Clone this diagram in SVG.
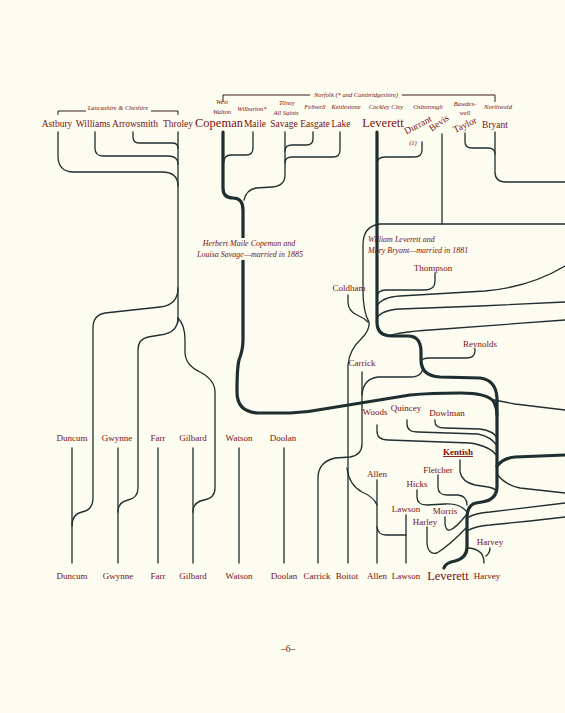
<svg xmlns="http://www.w3.org/2000/svg" width="565" height="713" viewBox="0 0 565 713">
<style>
.n{font-family:"Liberation Serif",serif;font-size:9.5px;fill:#7a1010;text-anchor:middle}
.s{font-size:9px}
.big{font-size:12.5px}
.it{font-family:"Liberation Serif",serif;font-style:italic;font-size:6.5px;fill:#7a1010;text-anchor:middle}
.ann{font-family:"Liberation Serif",serif;font-style:italic;font-size:8px;fill:#7a1010}
.l{fill:none;stroke:#1f2f2f;stroke-width:1.3;stroke-linecap:round;stroke-linejoin:round}
.t{stroke-width:3.2}
.br{fill:none;stroke:#3a1a1a;stroke-width:1}
</style>
<rect width="565" height="713" fill="#fcfcf0"/>
<g id="connectors">
<path class="l" d="M58,132 V156 Q58,172 74,172 H162 Q178,172 178,186"/>
<path class="l" d="M95,132 V148 Q95,156 103,156 H168 Q178,156 178,164"/>
<path class="l" d="M133,132 V137 Q133,143 139,143 H172 Q178,143 178,148"/>
<path class="l" d="M178,132 V322"/>
<path class="l" d="M178,288 Q178,305 160,307 L105,313 Q93,315 93,328 V498 Q93,510 82,512 Q72,514 72,526"/>
<path class="l" d="M178,318 Q178,333 160,335 L148,337 Q138,339 138,350 V488 Q138,498 128,500 Q118,502 118,512"/>
<path class="l" d="M178,318 Q185,325 185,340 V352 Q185,365 200,372 Q215,380 215,392 V488 Q215,498 204,500 Q193,502 193,512"/>
<path class="l" d="M72,448 V563 M118,448 V563 M158,448 V563 M193,448 V563 M239,448 V563 M284,448 V563"/>
<path class="l t" d="M223,132 V188 Q223,198 233,198 Q243,198 243,210 V340 Q243,350 239,360 Q237,368 237,392 Q237,412 258,413 L290,413 Q310,412 330,408 L410,395 Q430,393 460,393 Q488,393 494,402 Q497,408 497,415"/>
<path class="l" d="M253,132 V148 Q253,155 246,155 H231 Q224,155 224,162"/>
<path class="l" d="M313,132 V139 Q313,145 306,145 H292 Q285,145 285,151"/>
<path class="l" d="M340,132 V150 Q340,157 333,157 H292 Q285,157 285,163"/>
<path class="l" d="M285,132 V175 Q285,186 272,187 L256,188 Q246,190 244,200"/>
<path class="l t" d="M377,132 V322 Q377,336 392,336 H408 Q421,336 421,352 V360 Q421,376 440,377 L480,378 Q496,380 497,398 V486 Q497,500 482,502 L476,503 Q467,505 467,518 V547 Q467,558 455,561 Q445,563 444,568"/>
<path class="l" d="M422,142 V150 Q422,157 414,157 H385 Q377,157 377,164"/>
<path class="l" d="M465,133 V142 Q465,148 472,148 H488 Q495,148 495,154"/>
<path class="l" d="M495,132 V172 Q495,182 506,182 H565"/>
<path class="l" d="M442,134 V224"/>
<path class="l" d="M565,224 H380 Q363,226 363,245 V290 Q363,312 369,322 Q370,330 362,338 Q349,350 348,365 V563"/>
<path class="l" d="M348,295 V302 Q348,311 357,315 Q364,318 368,322"/>
<path class="l" d="M435,273 V281 Q435,290 425,290 H386 Q377,290 377,298"/>
<path class="l" d="M377,306 Q382,297 400,296 L485,291 Q530,287 565,266"/>
<path class="l" d="M377,318 Q382,310 400,309 L480,306 L565,302"/>
<path class="l" d="M388,336 Q400,332 430,330 L565,320"/>
<path class="l" d="M475,349 V351 Q475,358 466,358 H430 Q421,358 421,362"/>
<path class="l" d="M423,366 Q423,377 410,377 H378 Q363,379 362,395"/>
<path class="l" d="M362,372 V444 Q362,455 350,457 L335,458 Q318,462 318,478 V563"/>
<path class="l" d="M494,400 Q505,402 515,404 L565,410"/>
<path class="l" d="M377,425 V431 Q377,440 388,440 L470,443 Q490,446 497,456"/>
<path class="l" d="M407,420 V424 Q407,432 418,432 L478,434 Q492,437 497,446"/>
<path class="l" d="M435,420 V422 Q435,428 445,428 L480,429 Q494,431 497,438"/>
<path class="l" d="M460,460 V472 Q462,482 475,485 L488,487 Q495,488 497,492"/>
<path class="l t" d="M497,466 Q503,458 515,457 L565,455"/>
<path class="l" d="M497,474 Q505,485 520,488 L565,493"/>
<path class="l" d="M467,518 Q475,513 490,512 L565,503"/>
<path class="l" d="M467,531 Q475,526 490,525 L530,521 L565,517"/>
<path class="l" d="M438,475 V487 Q438,495 447,495 H458 Q467,496 467,505"/>
<path class="l" d="M417,490 V497 Q417,505 427,505 L445,504 Q460,503 467,512"/>
<path class="l" d="M445,517 V524 Q446,531 450,530 Q456,528 467,514"/>
<path class="l" d="M427,527 V543 Q428,555 437,553 Q450,545 467,527"/>
<path class="l" d="M467,548 Q476,548 481,553 Q484,557 484,563"/>
<path class="l" d="M490,548 Q490,553 486,556"/>
<path class="l" d="M377,480 V563 M406,515 V563"/>
<path class="l" d="M377,527 Q378,535 386,535 H406"/>
<path class="l" d="M347,468 Q349,485 362,492 Q374,497 377,505"/>
</g>
<g id="regions">
<path class="br" d="M58,115 V111 H86 M151,111 H178 V115"/>
<text class="it" x="118" y="110">Lancashire &amp; Cheshire</text>
<path class="br" d="M223,102 V95 H310 M402,95 H495 V102"/>
<text class="it" x="356" y="97">Norfolk (* and Cambridgeshire)</text>
<text class="it" x="222" y="104">West</text>
<text class="it" x="222" y="114">Walton</text>
<text class="it" x="252" y="111">Wilburton*</text>
<text class="it" x="287" y="105">Tilney</text>
<text class="it" x="286" y="115">All Saints</text>
<text class="it" x="315" y="109">Feltwell</text>
<text class="it" x="346" y="109">Kettlestone</text>
<text class="it" x="386" y="109">Cockley Cley</text>
<text class="it" x="428" y="109">Oxborough</text>
<text class="it" x="465" y="106">Bawdes-</text>
<text class="it" x="465" y="115">well</text>
<text class="it" x="498" y="109">Northwold</text>
</g>
<g id="top-row">
<text id="astbury" class="n" x="57" y="127">Astbury</text>
<text id="williams" class="n" x="93" y="127">Williams</text>
<text id="arrowsmith" class="n" x="135" y="127">Arrowsmith</text>
<text id="throley" class="n" x="178" y="127">Throley</text>
<text id="copeman" class="n big" x="219" y="127">Copeman</text>
<text id="maile" class="n" x="255" y="127">Maile</text>
<text id="savage" class="n" x="284" y="127">Savage</text>
<text id="easgate" class="n" x="315" y="127">Easgate</text>
<text id="lake" class="n" x="341" y="127">Lake</text>
<text id="leverett-top" class="n big" x="383" y="127">Leverett</text>
<text id="durrant" class="n" x="418" y="128" transform="rotate(-28 418 125)">Durrant</text>
<text class="it" x="413" y="145">(1)</text>
<text id="bevis" class="n" x="439" y="126" transform="rotate(-35 439 123)">Bevis</text>
<text id="taylor" class="n" x="465" y="128" transform="rotate(-25 465 125)">Taylor</text>
<text id="bryant" class="n" x="495" y="128">Bryant</text>
</g>
<g id="marriages">
<rect x="195" y="238" width="112" height="22" fill="#fcfcf0"/>
<text class="ann" x="249" y="246" text-anchor="middle">Herbert Maile Copeman and</text>
<text class="ann" x="250" y="257" text-anchor="middle">Louisa Savage—married in 1885</text>
<text class="ann" x="368" y="242">William Leverett and</text>
<text class="ann" x="368" y="253">Mary Bryant—married in 1881</text>
</g>
<g id="middle-nodes">
<text id="thompson" class="n s" x="433" y="271">Thompson</text>
<text id="coldham" class="n s" x="349" y="291">Coldham</text>
<text id="reynolds" class="n s" x="480" y="347">Reynolds</text>
<text id="carrick-mid" class="n s" x="362" y="366">Carrick</text>
<text id="woods" class="n s" x="375" y="415">Woods</text>
<text id="quincey" class="n s" x="406" y="411">Quincey</text>
<text id="dowlman" class="n s" x="447" y="416">Dowlman</text>
<text id="kentish" class="n s" x="458" y="455" font-weight="bold" text-decoration="underline">Kentish</text>
<text id="allen-mid" class="n s" x="377" y="477">Allen</text>
<text id="fletcher" class="n s" x="438" y="473">Fletcher</text>
<text id="hicks" class="n s" x="417" y="487">Hicks</text>
<text id="lawson-mid" class="n s" x="406" y="512">Lawson</text>
<text id="morris" class="n s" x="445" y="514">Morris</text>
<text id="harley" class="n s" x="425" y="525">Harley</text>
<text id="harvey-mid" class="n s" x="490" y="545">Harvey</text>
</g>
<g id="spouse-row">
<text class="n s" x="72" y="441">Duncum</text>
<text class="n s" x="117" y="441">Gwynne</text>
<text class="n s" x="158" y="441">Farr</text>
<text class="n s" x="193" y="441">Gilbard</text>
<text class="n s" x="239" y="441">Watson</text>
<text class="n s" x="283" y="441">Doolan</text>
</g>
<g id="bottom-row">
<text class="n s" x="72" y="579">Duncum</text>
<text class="n s" x="118" y="579">Gwynne</text>
<text class="n s" x="158" y="579">Farr</text>
<text class="n s" x="193" y="579">Gilbard</text>
<text class="n s" x="239" y="579">Watson</text>
<text class="n s" x="284" y="579">Doolan</text>
<text class="n s" x="317" y="579">Carrick</text>
<text class="n s" x="347" y="579">Boitot</text>
<text class="n s" x="377" y="579">Allen</text>
<text class="n s" x="406" y="579">Lawson</text>
<text class="n big" x="448" y="580">Leverett</text>
<text class="n s" x="487" y="579">Harvey</text>
</g>
<text class="n" x="288" y="652" font-size="11">–6–</text>
</svg>
